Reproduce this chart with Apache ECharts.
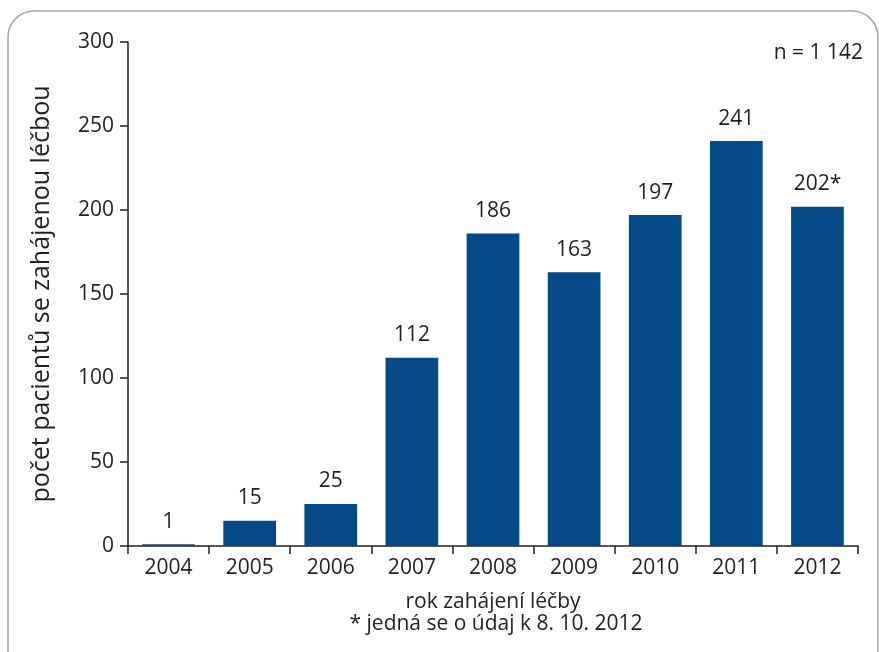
<!DOCTYPE html>
<html>
<head>
<meta charset="utf-8">
<script src="https://cdn.jsdelivr.net/npm/echarts@6/dist/echarts.min.js"></script>
<style>
	html, body { margin: 0; padding: 0; background: #fff; }
	#main { width: 879px; height: 652px; }
</style>
</head>
<body>
<div id="main"></div>
<script>
var years = ['2004', '2005', '2006', '2007', '2008', '2009', '2010', '2011', '2012'];
var patients = [1, 15, 25, 112, 186, 163, 197, 241, 202];
var barLabels = ['1', '15', '25', '112', '186', '163', '197', '241', '202*'];
var yTicks = [0, 50, 100, 150, 200, 250, 300];

var chartDom = document.getElementById('main');
var myChart = echarts.init(chartDom);
var option;

var font = '"Open Sans", sans-serif';
var axisColor = '#231f20';

option = {
	animation: false,
	textStyle: { fontFamily: font },
	grid: {
		left: 128,
		right: 21,
		top: 42,
		bottom: 106,
		containLabel: false
	},
	xAxis: {
		type: 'category',
		data: years,
		name: 'rok zahájení léčby',
		nameLocation: 'middle',
		nameGap: 46,
		nameTextStyle: { fontSize: 21, color: axisColor, fontFamily: font },
		axisLine: { lineStyle: { color: axisColor, width: 1.5 } },
		axisTick: { show: true, length: 8, lineStyle: { color: axisColor, width: 1.5 } },
		axisLabel: { fontSize: 21, color: axisColor, margin: 12, fontFamily: font }
	},
	yAxis: {
		type: 'value',
		min: yTicks[0],
		max: yTicks[yTicks.length - 1],
		interval: 50,
		name: 'počet pacientů se zahájenou léčbou',
		nameLocation: 'middle',
		nameGap: 74,
		nameTextStyle: { fontSize: 25, color: axisColor, fontFamily: font },
		splitLine: { show: false },
		axisLine: { show: true, lineStyle: { color: axisColor, width: 1.5 } },
		axisTick: { show: true, length: 8, lineStyle: { color: axisColor, width: 1.5 } },
		axisLabel: { fontSize: 21, color: axisColor, margin: 14, fontFamily: font }
	},
	series: [
		{
			type: 'bar',
			data: patients,
			barWidth: '65%',
			itemStyle: { color: '#044a87' },
			label: {
				show: true,
				position: 'top',
				distance: 12,
				fontSize: 21,
				color: axisColor,
				fontFamily: font,
				formatter: function (p) { return barLabels[p.dataIndex]; }
			}
		}
	],
	graphic: [
		{
			type: 'rect',
			shape: { x: 8, y: 11, width: 870, height: 700, r: 26 },
			style: { fill: 'none', stroke: '#a6a6a6', lineWidth: 1.5 },
			z: -1
		},
		{
			type: 'text',
			right: 16,
			top: 43,
			style: { text: 'n = 1 142', fontSize: 21, fill: axisColor, fontFamily: font }
		},
		{
			type: 'text',
			x: 496,
			y: 624,
			style: {
				text: '* jedná se o údaj k 8. 10. 2012',
				fontSize: 21,
				fill: axisColor,
				fontFamily: font,
				textAlign: 'center',
				textVerticalAlign: 'middle'
			}
		}
	]
};

option && myChart.setOption(option);
</script>
</body>
</html>
